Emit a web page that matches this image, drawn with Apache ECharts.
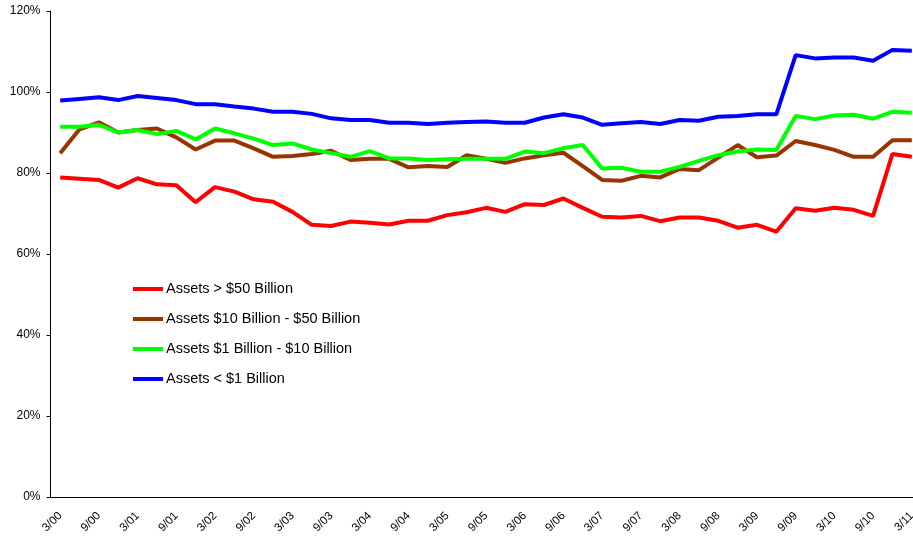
<!DOCTYPE html>
<html><head><meta charset="utf-8">
<script src="https://cdn.jsdelivr.net/npm/echarts@6/dist/echarts.min.js"></script>
<style>html,body{margin:0;padding:0;background:#fff}#c{width:913px;height:538px}</style>
</head><body><div id="c"></div>
<script>
const categories = ['3/00','6/00','9/00','12/00','3/01','6/01','9/01','12/01','3/02','6/02','9/02','12/02',
 '3/03','6/03','9/03','12/03','3/04','6/04','9/04','12/04','3/05','6/05','9/05','12/05',
 '3/06','6/06','9/06','12/06','3/07','6/07','9/07','12/07','3/08','6/08','9/08','12/08',
 '3/09','6/09','9/09','12/09','3/10','6/10','9/10','12/10','3/11'];
const seriesNames = ['Assets > $50 Billion','Assets $10 Billion - $50 Billion','Assets $1 Billion - $10 Billion','Assets < $1 Billion'];
const over50 = [78.9,78.6,78.3,76.4,78.7,77.2,77.0,72.8,76.5,75.4,73.5,72.9,70.4,67.2,66.9,68.0,67.7,67.3,68.2,68.2,69.6,70.3,71.4,70.4,72.3,72.1,73.7,71.4,69.2,69.0,69.4,68.1,69.0,69.0,68.2,66.5,67.2,65.5,71.3,70.7,71.4,70.9,69.4,84.7,84.0];
const from10to50 = [84.9,90.8,92.5,90.0,90.6,91.0,88.8,85.8,88.0,88.0,86.1,84.0,84.2,84.7,85.5,83.2,83.5,83.5,81.4,81.7,81.5,84.4,83.5,82.5,83.6,84.4,85.0,81.7,78.3,78.1,79.3,78.9,81.0,80.7,83.8,86.9,83.9,84.3,87.9,86.9,85.7,84.0,84.0,88.1,88.1];
const from1to10 = [91.4,91.4,91.9,90.0,90.6,89.6,90.4,88.3,91.0,89.8,88.5,86.9,87.3,85.8,84.9,84.0,85.4,83.6,83.6,83.2,83.4,83.5,83.5,83.5,85.3,84.9,86.1,86.9,81.1,81.3,80.3,80.3,81.5,83.0,84.4,85.3,85.8,85.7,94.1,93.3,94.2,94.4,93.4,95.1,94.9];
const under1 = [97.9,98.3,98.7,98.0,99.0,98.5,98.0,97.0,97.0,96.4,95.9,95.1,95.1,94.6,93.5,93.1,93.1,92.4,92.4,92.1,92.4,92.6,92.7,92.4,92.4,93.7,94.5,93.7,91.9,92.3,92.6,92.1,93.1,92.9,93.9,94.1,94.5,94.5,109.1,108.3,108.5,108.5,107.7,110.4,110.2];
const yTicks = [0,20,40,60,80,100,120];
const colors = ['#FF0000','#993300','#00FF00','#0000FF'];
const values = [over50, from10to50, from1to10, under1];
const font = 'Liberation Sans, Arial, sans-serif';
const chart = echarts.init(document.getElementById('c'));
chart.setOption({
  animation:false,
  backgroundColor:'#fff',
  grid:{left:50.5, top:11, right:-8.5, bottom:41, containLabel:false, outerBoundsMode:'none'},
  legend:{orient:'vertical', left:128, top:276, itemWidth:30, itemHeight:4, itemGap:14, icon:'rect',
    textStyle:{fontFamily:font, fontSize:14.5, color:'#000', lineHeight:16, padding:[0,0,0,-2]},
    data:seriesNames},
  xAxis:{type:'category', data:categories, boundaryGap:true,
    axisLine:{lineStyle:{color:'#000', width:1}},
    axisTick:{interval:0, length:4, lineStyle:{color:'#000'}},
    axisLabel:{interval:1, rotate:45, fontFamily:font, fontSize:11.5, color:'#000', margin:17}},
  yAxis:{type:'value', min:yTicks[0], max:yTicks[yTicks.length-1], interval:20,
    axisLine:{show:true, lineStyle:{color:'#000', width:1}},
    axisTick:{show:true, length:4, lineStyle:{color:'#000'}},
    splitLine:{show:false},
    axisLabel:{formatter:'{value}%', fontFamily:font, fontSize:12, color:'#000', margin:10}},
  series: seriesNames.map((n,i)=>({name:n, type:'line', data:values[i], symbol:'none', smooth:false,
    lineStyle:{width:4, color:colors[i]}, itemStyle:{color:colors[i]}, z:2+i}))
});
</script></body></html>
